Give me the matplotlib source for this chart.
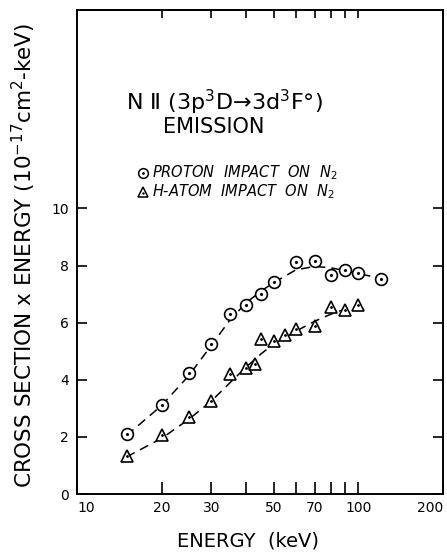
import numpy as np
import matplotlib
matplotlib.use("Agg")
import matplotlib.pyplot as plt

# measured points
proton_e = [15, 20, 25, 30, 35, 40, 45, 50, 60, 70, 80, 90, 100, 120]
proton_y = [2.1, 3.12, 4.22, 5.27, 6.32, 6.61, 6.99, 7.42, 8.14, 8.15, 7.66, 7.83, 7.75, 7.52]

hatom_e = [15, 20, 25, 30, 35, 40, 43, 45, 50, 55, 60, 70, 80, 90, 100]
hatom_y = [1.34, 2.06, 2.7, 3.26, 4.2, 4.43, 4.55, 5.44, 5.36, 5.57, 5.77, 5.88, 6.55, 6.44, 6.62]

# dashed curves
proton_fit_e = [15, 20, 25, 30, 35, 40, 45, 50, 60, 70, 80, 90, 100, 120]
proton_fit_y = [2.05, 3.1, 4.15, 5.2, 6.1, 6.7, 7.1, 7.4, 7.85, 7.97, 7.92, 7.82, 7.72, 7.55]

hatom_fit_e = [15, 20, 25, 30, 35, 40, 45, 50, 60, 70, 80, 90, 100]
hatom_fit_y = [1.3, 1.95, 2.62, 3.25, 3.9, 4.45, 4.9, 5.25, 5.7, 6.05, 6.3, 6.48, 6.6]

xtick_vals = [10, 20, 30, 40, 50, 60, 70, 80, 90, 100, 200]
xtick_labels = ["10", "20", "30", "", "50", "", "70", "", "", "100", "200"]
ytick_vals = [0, 2, 4, 6, 8, 10]

fig = plt.figure(figsize=(4.47, 5.52), dpi=100)
ax = fig.add_axes([77 / 447, 1 - 494 / 552, 366 / 447, 484 / 552])

dash = dict(color="black", lw=1.1, dashes=(6, 4))
ax.plot(proton_fit_e, proton_fit_y, **dash)
ax.plot(hatom_fit_e, hatom_fit_y, **dash)

ax.plot(proton_e, proton_y, "o", ms=8.5, mfc="white", mec="black", mew=1.2, ls="none")
ax.plot(proton_e, proton_y, ".", ms=2.5, color="black", ls="none")
ax.plot(hatom_e, hatom_y, "^", ms=8, mfc="white", mec="black", mew=1.2, ls="none")
ax.plot(hatom_e, hatom_y, ".", ms=2, color="black", ls="none")

ax.set_xscale("log")
ax.set_xlim(10, 200)
ax.set_ylim(0, 16.95)
ax.xaxis.set_minor_locator(matplotlib.ticker.NullLocator())
ax.set_xticks(xtick_vals)
ax.set_xticklabels(xtick_labels)
ax.set_yticks(ytick_vals)
ax.tick_params(axis="x", direction="in", length=8.5, width=1.2, labelsize=10, pad=5)
ax.tick_params(axis="y", direction="in", length=7, width=1.2, labelsize=10, pad=6,
               right=True)
xl = ax.get_xticklabels()
xl[0].set_horizontalalignment("left")
xl[-1].set_horizontalalignment("right")
for s in ax.spines.values():
    s.set_linewidth(1.4)

top = ax.secondary_xaxis("top")
top.set_xticks([20, 30, 40, 50, 60, 70, 80, 90, 100])
top.xaxis.set_minor_locator(matplotlib.ticker.NullLocator())
top.tick_params(direction="in", length=6, width=1.2, labeltop=False)
top.spines["top"].set_linewidth(1.4)

ax.set_xlabel("ENERGY  (keV)", fontsize=14, va="center")
ax.xaxis.set_label_coords(0.467, -0.097)
fig.text(24 / 447, 1 - 255 / 552,
         "CROSS SECTION x ENERGY (10$^{-17}$cm$^2$-keV)",
         rotation=90, ha="center", va="center", fontsize=15.5)

ax.text(0.402, 0.810, "N Ⅱ (3p$^3$D→3d$^3$F°)", transform=ax.transAxes,
        ha="center", va="center", fontsize=16)
ax.text(0.374, 0.758, "EMISSION", transform=ax.transAxes,
        ha="center", va="center", fontsize=15)

ax.plot([0.180], [0.663], "o", ms=7, mfc="white", mec="black", mew=1.1,
        transform=ax.transAxes)
ax.plot([0.180], [0.663], ".", ms=2, color="black", transform=ax.transAxes)
ax.plot([0.180], [0.624], "^", ms=6.5, mfc="white", mec="black", mew=1.1,
        transform=ax.transAxes)
ax.plot([0.180], [0.621], ".", ms=1.5, color="black", transform=ax.transAxes)
ax.text(0.205, 0.663, "PROTON  IMPACT  ON  $N_2$", transform=ax.transAxes,
        ha="left", va="center", fontsize=10.5, style="italic")
ax.text(0.205, 0.624, "H-ATOM  IMPACT  ON  $N_2$", transform=ax.transAxes,
        ha="left", va="center", fontsize=10.5, style="italic")

fig.savefig("out.png", dpi=100)
